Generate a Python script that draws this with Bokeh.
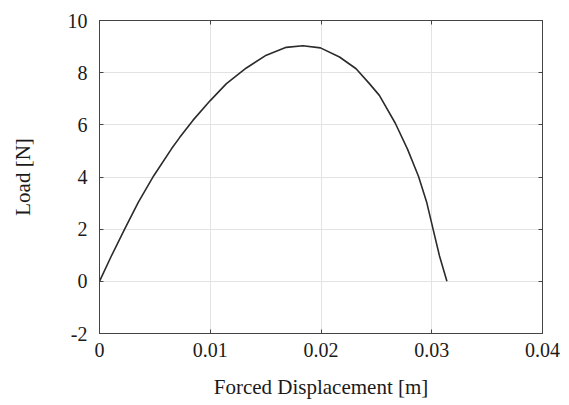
from bokeh.plotting import figure
from bokeh.models import LinearAxis, FixedTicker, Range1d
from bokeh.embed import file_html
from bokeh.resources import INLINE

# Data
disp = [0, 0.00107, 0.00227, 0.0035, 0.0049, 0.0065, 0.00725, 0.00845, 0.0100,
        0.01146, 0.01326, 0.01506, 0.01686, 0.01836, 0.01995, 0.02167, 0.02317,
        0.02437, 0.02527, 0.02671, 0.02782, 0.0288, 0.02955, 0.03012, 0.0307, 0.03137]
load = [0, 0.97, 2.0, 3.03, 4.05, 5.08, 5.52, 6.18, 6.93,
        7.58, 8.18, 8.67, 8.97, 9.03, 8.95, 8.6, 8.15,
        7.58, 7.13, 6.06, 5.06, 4.03, 3.02, 2.0, 0.97, 0]

x_ticks = [0, 0.01, 0.02, 0.03, 0.04]
x_tick_labels = ["0", "0.01", "0.02", "0.03", "0.04"]
y_ticks = [-2, 0, 2, 4, 6, 8, 10]
y_tick_labels = ["-2", "0", "2", "4", "6", "8", "10"]

FONT = "Liberation Serif"
AX = "#444444"

p = figure(width=560, height=402, output_backend="svg", toolbar_location=None,
           x_range=Range1d(0, 0.04), y_range=Range1d(-2, 10),
           min_border_left=99, min_border_right=18, min_border_top=20, min_border_bottom=69)
p.background_fill_color = "white"
p.border_fill_color = "white"
p.outline_line_color = AX
p.outline_line_width = 1

p.line(disp, load, line_color="#2b2b2b", line_width=1.6, line_join="round")

for ax, ticks, labels in ((p.xaxis[0], x_ticks, x_tick_labels), (p.yaxis[0], y_ticks, y_tick_labels)):
    ax.ticker = FixedTicker(ticks=ticks)
    ax.major_label_overrides = {t: l for t, l in zip(ticks, labels)}
    ax.minor_tick_line_color = None
    ax.major_tick_in = 4
    ax.major_tick_out = 0
    ax.axis_line_color = AX
    ax.major_tick_line_color = AX
    ax.major_label_text_font = FONT
    ax.major_label_text_font_size = "20px"
    ax.major_label_text_color = "#1a1a1a"
    ax.axis_label_text_font = FONT
    ax.axis_label_text_font_size = "21px"
    ax.axis_label_text_font_style = "normal"
    ax.axis_label_text_color = "#1a1a1a"

p.xaxis[0].axis_label = "Forced Displacement [m]"
p.yaxis[0].axis_label = "Load [N]"
p.xaxis[0].major_label_standoff = 9
p.yaxis[0].major_label_standoff = 12
p.xaxis[0].axis_label_standoff = 15
p.yaxis[0].axis_label_standoff = 30

for loc, ticks in (("above", x_ticks), ("right", y_ticks)):
    ax = LinearAxis(ticker=FixedTicker(ticks=ticks))
    ax.major_label_overrides = {t: "" for t in ticks}
    ax.major_label_text_font_size = "0px"
    ax.major_label_standoff = 0
    ax.minor_tick_line_color = None
    ax.major_tick_in = 4
    ax.major_tick_out = 0
    ax.axis_line_color = AX
    ax.major_tick_line_color = AX
    p.add_layout(ax, loc)

p.xgrid.ticker = FixedTicker(ticks=x_ticks)
p.ygrid.ticker = FixedTicker(ticks=y_ticks)
p.grid.grid_line_color = "#e3e3e3"
p.grid.grid_line_width = 1

open("out.html", "w").write(file_html(p, INLINE))
